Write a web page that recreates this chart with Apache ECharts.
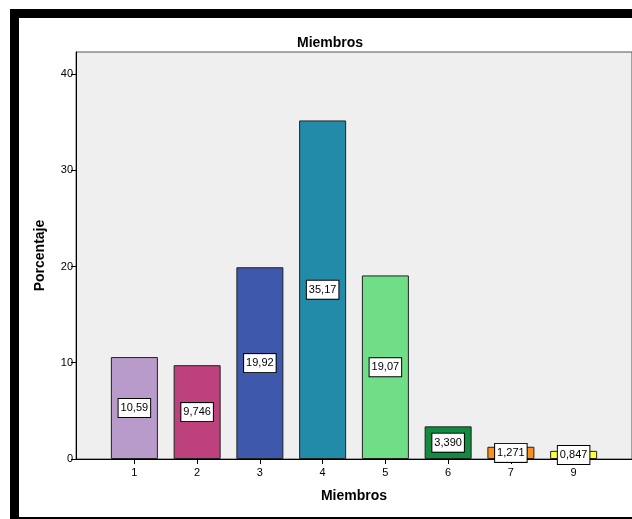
<!DOCTYPE html>
<html>
<head>
<meta charset="utf-8">
<script src="https://cdn.jsdelivr.net/npm/echarts@6/dist/echarts.min.js"></script>
<style>
  body { margin: 0; background: #fff; }
  #chart { position: absolute; left: 0; top: 0; width: 632px; height: 519px; }
  .frame { position: absolute; background: #000; pointer-events: none; }
</style>
</head>
<body>
<div id="chart"></div>
<div class="frame" style="left:10px;top:9px;width:622px;height:9px;"></div>
<div class="frame" style="left:10px;top:9px;width:9px;height:510px;"></div>
<div class="frame" style="left:10px;top:517px;width:622px;height:2px;"></div>
<script>
// categories and percentages
const categories = ['1', '2', '3', '4', '5', '6', '7', '9'];
const percentages = [10.59, 9.746, 19.92, 35.17, 19.07, 3.390, 1.271, 0.847];
const barColors = ['#B99BCB', '#BC417C', '#3E58AC', '#238BAA', '#70DD87', '#128A40', '#F7901E', '#FFFF33'];
const yTicks = [0, 10, 20, 30, 40];

const font = 'Liberation Sans, Arial, sans-serif';
const yMax = 42.28;

var myChart = echarts.init(document.getElementById('chart'));

// SPSS style numbers: 4 significant digits, comma decimal
function fmt(v) {
    let s = v >= 10 ? v.toFixed(2) : v.toFixed(3);
    return s.replace('.', ',');
}

var option = {
    animation: false,
    backgroundColor: '#fff',
    textStyle: { fontFamily: font },
    title: {
        text: 'Miembros',
        left: 292,
        top: 31,
        textStyle: { fontSize: 14, fontWeight: 'bold', color: '#000', fontFamily: font }
    },
    grid: [
        { left: 76, top: 52, right: -2, bottom: 60, show: true, backgroundColor: '#efefef', borderColor: '#555', borderWidth: 1 },
        { left: 103, top: 52, right: 27, bottom: 60 }
    ],
    xAxis: [
        {
            gridIndex: 0, type: 'value', min: 0, max: 1,
            axisLine: { show: true, lineStyle: { color: '#000', width: 1 } },
            axisTick: { show: false },
            axisLabel: { show: false },
            splitLine: { show: false },
            name: 'Miembros',
            nameLocation: 'middle',
            nameGap: 30,
            nameTextStyle: { fontSize: 14, fontWeight: 'bold', color: '#000', fontFamily: font }
        },
        {
            gridIndex: 1, type: 'category', data: categories,
            axisLine: { show: false },
            axisTick: { show: true, alignWithLabel: true, length: 5, lineStyle: { color: '#000' } },
            axisLabel: { fontSize: 11, color: '#000', margin: 8, fontFamily: font }
        }
    ],
    yAxis: [
        {
            gridIndex: 0, type: 'value', min: 0, max: yMax,
            axisLine: { show: true, lineStyle: { color: '#000', width: 1 } },
            axisTick: { show: true, length: 5, customValues: yTicks, lineStyle: { color: '#000' } },
            axisLabel: { fontSize: 11, color: '#000', margin: 3, customValues: yTicks, fontFamily: font },
            splitLine: { show: false },
            name: 'Porcentaje',
            nameLocation: 'middle',
            nameRotate: 90,
            nameGap: 29,
            nameTextStyle: { fontSize: 14, fontWeight: 'bold', color: '#000', fontFamily: font }
        },
        { gridIndex: 1, type: 'value', min: 0, max: yMax, show: false }
    ],
    series: [
        {
            type: 'bar',
            xAxisIndex: 1,
            yAxisIndex: 1,
            barWidth: 47,
            data: percentages.map((v, i) => ({
                value: v,
                itemStyle: { color: barColors[i] }
            })),
            itemStyle: { borderColor: '#222', borderWidth: 1 },
            label: {
                show: true,
                position: 'inside',
                formatter: p => fmt(p.value),
                fontSize: 11,
                color: '#000',
                fontFamily: font,
                backgroundColor: '#fff',
                borderColor: '#000',
                borderWidth: 1,
                padding: [3, 2, 2, 2],
                lineHeight: 13
            }
        }
    ]
};

myChart.setOption(option);
</script>
</body>
</html>
